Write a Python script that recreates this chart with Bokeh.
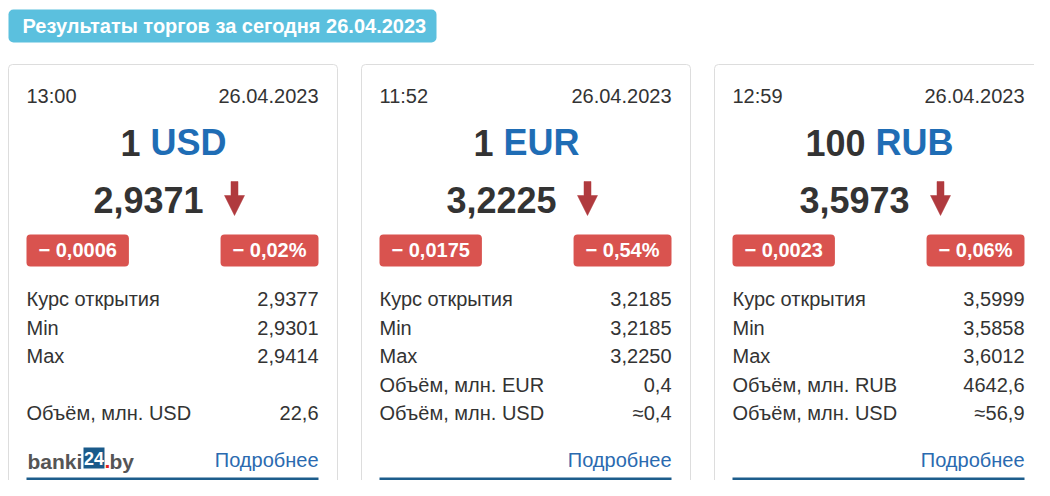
from bokeh.plotting import figure
from bokeh.models import Range1d
from bokeh.core.properties import value
from bokeh.embed import file_html
from bokeh.resources import INLINE

# ---------------- data ----------------
header_title = "Результаты торгов за сегодня 26.04.2023"
times = ["13:00", "11:52", "12:59"]
dates = ["26.04.2023", "26.04.2023", "26.04.2023"]
amounts = ["1", "1", "100"]
currencies = ["USD", "EUR", "RUB"]
rates = ["2,9371", "3,2225", "3,5973"]
changes_abs = ["− 0,0006", "− 0,0175", "− 0,0023"]
changes_pct = ["− 0,02%", "− 0,54%", "− 0,06%"]
row_labels = ["Курс открытия", "Min", "Max"]
open_rates = ["2,9377", "3,2185", "3,5999"]
min_rates = ["2,9301", "3,2185", "3,5858"]
max_rates = ["2,9414", "3,2250", "3,6012"]
vol_labels = ["", "Объём, млн. EUR", "Объём, млн. RUB"]
vol_values = ["", "0,4", "4642,6"]
usd_vol_label = "Объём, млн. USD"
usd_vol_values = ["22,6", "≈0,4", "≈56,9"]
more_label = "Подробнее"

# ---------------- styles ----------------
FONT = value("Liberation Sans")
DARK = "#333333"
BLUE = "#1f6db5"
LINK = "#2a6ab0"
RED_BADGE = "#d9534f"
ARROW = "#b03a3e"
HEADER_BG = "#5bc0de"
BORDER = "#dddddd"
LINE = "#1d5d8c"

BOLD_W = {**{d: 0.556 for d in "0123456789"}, ",": 0.278, ".": 0.278, " ": 0.278,
          "%": 0.889, "−": 0.584, "U": 0.722, "S": 0.667, "D": 0.722, "E": 0.667,
          "R": 0.722, "B": 0.722}


def bw(s, size):
    return sum(BOLD_W.get(c, 0.6) for c in s) * size


p = figure(width=1034, height=480, x_range=Range1d(0, 1034), y_range=Range1d(480, 0),
           output_backend="svg", toolbar_location=None, min_border=0,
           x_axis_location=None, y_axis_location=None,
           background_fill_color="white", border_fill_color="white",
           outline_line_color=None)
p.grid.visible = False

# header badge
p.quad(left=[8], right=[436], top=[9], bottom=[42], fill_color=HEADER_BG,
       line_color=None, border_radius=5)
p.text(x=[22], y=[25.5], text=[header_title], text_font=FONT, text_font_size="20px",
       text_font_style="bold", text_color="white", text_baseline="middle")

n = len(currencies)
card_left = [8 + i * 353 for i in range(n)]
cl = [L + 18 for L in card_left]          # content left
cr = [L + 310 for L in card_left]         # content right
cc = [(a + b) / 2 + 1 for a, b in zip(cl, cr)]  # content center

# cards
p.quad(left=card_left, right=[L + 329 for L in card_left], top=[64] * n, bottom=[520] * n,
       fill_color="white", line_color=BORDER, line_width=1, border_radius=4)

common = dict(text_font=FONT, text_baseline="middle")

# time / date
p.text(x=cl, y=[95.5] * n, text=times, text_font_size="20px", text_color=DARK, **common)
p.text(x=cr, y=[95.5] * n, text=dates, text_font_size="20px", text_color=DARK,
       text_align="right", **common)

# "1 USD" title
tw = [bw(a + " " + c, 36) for a, c in zip(amounts, currencies)]
tstart = [c - w / 2 for c, w in zip(cc, tw)]
p.text(x=tstart, y=[142] * n, text=amounts, text_font_size="36px", text_font_style="bold",
       text_color=DARK, **common)
p.text(x=[s + bw(a + " ", 36) for s, a in zip(tstart, amounts)], y=[142] * n, text=currencies,
       text_font_size="36px", text_font_style="bold", text_color=BLUE, **common)

# rate + arrow
p.text(x=[c + 30 for c in cc], y=[199.5] * n, text=rates, text_font_size="36px",
       text_font_style="bold", text_color=DARK, text_align="right", **common)
xs, ys = [], []
for c in cc:
    ax = c + 61
    xs.append([ax - 3.5, ax + 3.5, ax + 3.5, ax + 10, ax, ax - 10, ax - 3.5])
    ys.append([181, 181, 195, 195, 215, 195, 195])
p.patches(xs=xs, ys=ys, fill_color=ARROW, line_color=ARROW, line_width=0.5)

# badges
bl_w = [bw(t, 20) + 24 for t in changes_abs]
br_w = [bw(t, 20) + 24 for t in changes_pct]
p.quad(left=cl, right=[a + w for a, w in zip(cl, bl_w)], top=[234] * n, bottom=[266] * n,
       fill_color=RED_BADGE, line_color=None, border_radius=4)
p.quad(left=[b - w for b, w in zip(cr, br_w)], right=cr, top=[234] * n, bottom=[266] * n,
       fill_color=RED_BADGE, line_color=None, border_radius=4)
p.text(x=[a + w / 2 for a, w in zip(cl, bl_w)], y=[249.5] * n, text=changes_abs,
       text_font_size="20px", text_font_style="bold", text_color="white",
       text_align="center", **common)
p.text(x=[b - w / 2 for b, w in zip(cr, br_w)], y=[249.5] * n, text=changes_pct,
       text_font_size="20px", text_font_style="bold", text_color="white",
       text_align="center", **common)

# rows
row_y = [298.5, 327, 355.5, 384, 412.5]
lab_x, lab_y, lab_t, val_x, val_y, val_t = [], [], [], [], [], []
for i in range(n):
    col_vals = [open_rates[i], min_rates[i], max_rates[i], vol_values[i], usd_vol_values[i]]
    col_labs = row_labels + [vol_labels[i], usd_vol_label]
    for r, (lab, val) in enumerate(zip(col_labs, col_vals)):
        if lab:
            lab_x.append(cl[i]); lab_y.append(row_y[r]); lab_t.append(lab)
            val_x.append(cr[i]); val_y.append(row_y[r]); val_t.append(val)
p.text(x=lab_x, y=lab_y, text=lab_t, text_font_size="20px", text_color=DARK, **common)
p.text(x=val_x, y=val_y, text=val_t, text_font_size="20px", text_color=DARK,
       text_align="right", **common)

# footer: logo on first card
lx = cl[0]
p.text(x=[lx + 1], y=[460.5], text=["banki"], text_font_size="21px", text_font_style="bold",
       text_color="#555555", **common)
p.quad(left=[lx + 57], right=[lx + 78], top=[447], bottom=[468], fill_color="#1a5a8a",
       line_color=None)
p.text(x=[lx + 67.5], y=[457.5], text=["24"], text_font_size="18px", text_font_style="bold",
       text_color="white", text_align="center", **common)
p.text(x=[lx + 78], y=[460.5], text=["."], text_font_size="21px", text_font_style="bold",
       text_color="#e2231a", **common)
p.text(x=[lx + 83], y=[460.5], text=["by"], text_font_size="21px", text_font_style="bold",
       text_color="#555555", **common)

p.text(x=cr, y=[459.5] * n, text=[more_label] * n, text_font_size="20px", text_color=LINK,
       text_align="right", **common)
p.segment(x0=cl, x1=cr, y0=[478.5] * n, y1=[478.5] * n, line_color=LINE, line_width=3)

open("out.html", "w").write(file_html(p, INLINE))
